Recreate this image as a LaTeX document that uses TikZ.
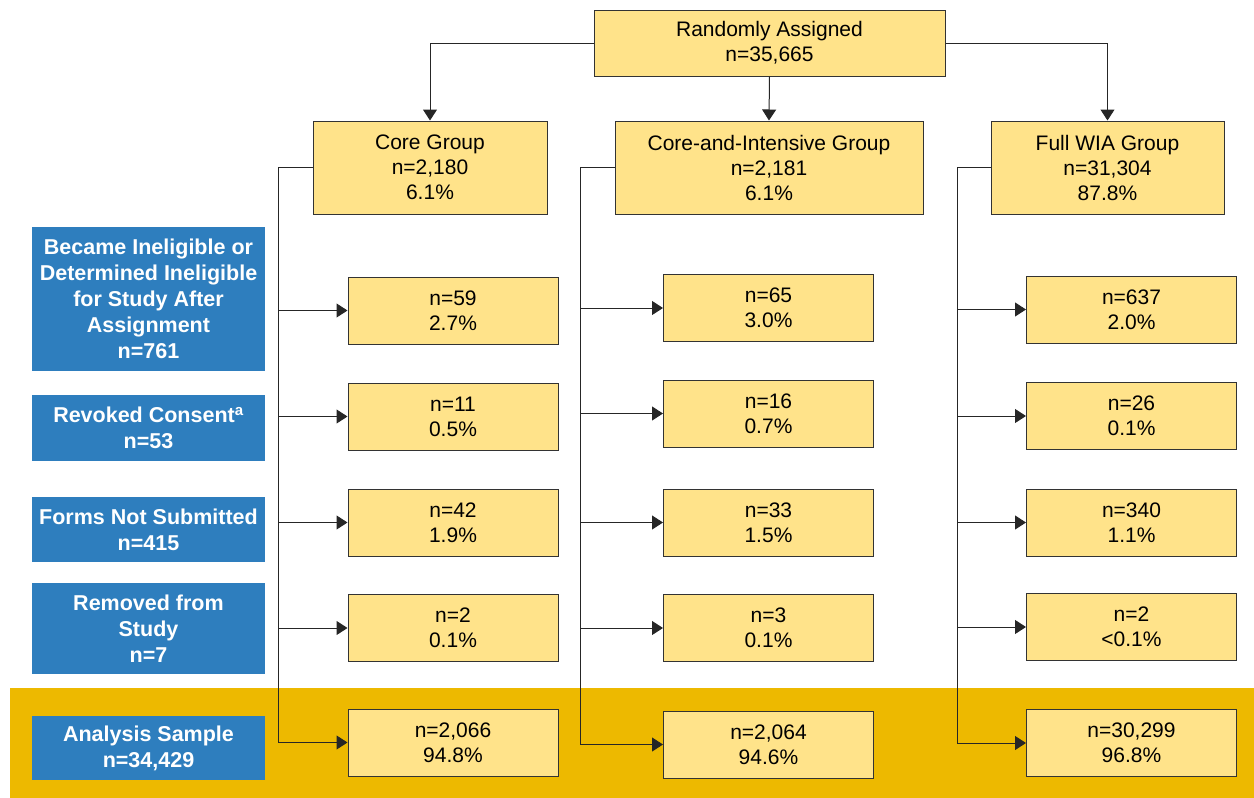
\documentclass[tikz,border=0pt]{standalone}
\usepackage{fontspec}
\setmainfont{Liberation Sans}
\usetikzlibrary{arrows.meta}
\definecolor{boxyellow}{HTML}{FFE38A}
\definecolor{boxblue}{HTML}{2E7EBE}
\definecolor{bandgold}{HTML}{EDB900}
\begin{document}
\begin{tikzpicture}[x=1pt,y=-1pt,
  ybox/.style={draw=black!80, fill=boxyellow, line width=1pt, align=center,
    font=\fontsize{21}{25}\selectfont, inner sep=0pt},
  rbox/.style={ybox, minimum width=210pt, minimum height=67pt},
  bbox/.style={fill=boxblue, text=white, align=center,
    font=\bfseries\fontsize{21.5}{26}\selectfont, minimum width=233pt, inner sep=0pt},
  conn/.style={line width=1pt, draw=black!85},
  arr/.style={conn, -{Triangle[length=11pt,width=14pt]}}]
\useasboundingbox (0,0) rectangle (1254,798);
\fill[bandgold] (10,688) rectangle (1254,798);

% top
\node[ybox, minimum width=351pt, minimum height=66pt] (top) at (769.5,43) {Randomly Assigned\\n=35,665};
\node[ybox, minimum width=234pt, minimum height=93pt] (core) at (430,167.5) {Core Group\\n=2,180\\6.1\%};
\node[ybox, minimum width=308pt, minimum height=93pt] (ci) at (769,167.5) {Core-and-Intensive Group\\n=2,181\\6.1\%};
\node[ybox, minimum width=233pt, minimum height=93pt] (wia) at (1107.5,167.5) {Full WIA Group\\n=31,304\\87.8\%};

\draw[arr] (top.west) -| (core.north);
\draw[arr] (top.south) -- (ci.north);
\draw[arr] (top.east) -| (wia.north);

% blue labels
\node[bbox, minimum height=144pt] (b1) at (148.5,299) {Became Ineligible or\\Determined Ineligible\\for Study After\\Assignment\\n=761};
\node[bbox, minimum height=66pt] (b2) at (148.5,428) {Revoked Consent\textsuperscript{a}\\n=53};
\node[bbox, minimum height=65pt] (b3) at (148.5,529.5) {Forms Not Submitted\\n=415};
\node[bbox, minimum height=91pt] (b4) at (148.5,628.5) {Removed from\\Study\\n=7};
\node[bbox, minimum height=64pt] (b5) at (148.5,748) {Analysis Sample\\n=34,429};

% column 1
\node[rbox] (a1) at (453,310.5) {n=59\\2.7\%};
\node[rbox] (a2) at (453,416.5) {n=11\\0.5\%};
\node[rbox] (a3) at (453,522.5) {n=42\\1.9\%};
\node[rbox] (a4) at (453,628) {n=2\\0.1\%};
\node[rbox] (a5) at (453,742.5) {n=2,066\\94.8\%};
% column 2
\node[rbox] (c1) at (768.5,308) {n=65\\3.0\%};
\node[rbox] (c2) at (768.5,413.5) {n=16\\0.7\%};
\node[rbox] (c3) at (768.5,522.5) {n=33\\1.5\%};
\node[rbox] (c4) at (768.5,628) {n=3\\0.1\%};
\node[rbox] (c5) at (768.5,744.5) {n=2,064\\94.6\%};
% column 3
\node[rbox] (d1) at (1131.5,309.5) {n=637\\2.0\%};
\node[rbox] (d2) at (1131.5,416) {n=26\\0.1\%};
\node[rbox] (d3) at (1131.5,522.5) {n=340\\1.1\%};
\node[rbox] (d4) at (1131.5,627) {n=2\\<0.1\%};
\node[rbox] (d5) at (1131.5,743) {n=30,299\\96.8\%};

\coordinate (k1) at (278,167.5);
\coordinate (k2) at (580,167.5);
\coordinate (k3) at (957,167.5);

\draw[arr] (core.west) -- (k1) |- (a5.west);
\foreach \n in {a1,a2,a3,a4} \draw[arr] (k1 |- \n.west) -- (\n.west);
\draw[arr] (ci.west) -- (k2) |- (c5.west);
\foreach \n in {c1,c2,c3,c4} \draw[arr] (k2 |- \n.west) -- (\n.west);
\draw[arr] (wia.west) -- (k3) |- (d5.west);
\foreach \n in {d1,d2,d3,d4} \draw[arr] (k3 |- \n.west) -- (\n.west);
\end{tikzpicture}
\end{document}
